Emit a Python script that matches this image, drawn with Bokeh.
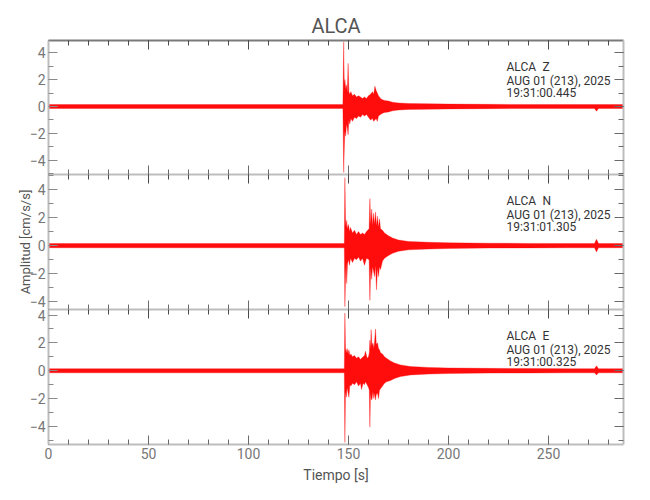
from bokeh.plotting import figure
from bokeh.layouts import column
from bokeh.models import (LinearAxis, SingleIntervalTicker, Range1d, Label,
                          CustomJSTickFormatter)
from bokeh.embed import file_html
from bokeh.resources import INLINE

# ---------------- data ----------------
station = "ALCA"
x_label = "Tiempo [s]"
y_label = "Amplitud [cm/s/s]"
date_text = "AUG 01 (213), 2025"
components = ["Z", "N", "E"]
start_times = ["19:31:00.445", "19:31:01.305", "19:31:00.325"]
t_end = 287.5
y_limits = [(-5.05, 4.9), (-4.55, 5.07), (-5.3, 4.4)]

# envelope of each trace: time [s], upper and lower amplitude [cm/s/s]
t_Z = [0, 147.2, 147.6, 147.9, 148.2, 148.6, 149.0, 149.4, 149.8, 150.2, 150.6,
       151.2, 152, 153, 154, 155, 156, 157, 158, 159, 160, 161, 162, 162.6,
       163.2, 163.8, 164.4, 165, 166, 167, 168, 170, 172, 175, 180, 190, 200,
       220, 240, 260, 273, 274, 275, 280, 287.5]
hi_Z = [0.15, 0.15, 4.8, 1.6, 2.0, 1.3, 1.6, 1.0, 3.2, 1.1, 0.9,
        1.1, 0.8, 0.9, 0.7, 0.8, 0.7, 0.6, 0.7, 0.6, 0.8, 0.9, 1.1, 0.9,
        1.5, 1.2, 1.0, 0.8, 0.6, 0.5, 0.45, 0.4, 0.32, 0.26, 0.22, 0.2, 0.18,
        0.16, 0.15, 0.15, 0.15, 0.15, 0.15, 0.15, 0.15]
lo_Z = [-0.15, -0.15, -4.9, -3.1, -1.8, -2.2, -1.3, -1.6, -2.1, -1.0, -1.3,
        -0.9, -1.1, -0.8, -0.9, -0.7, -0.8, -0.6, -0.7, -0.6, -0.8, -1.0, -0.9, -1.1,
        -1.0, -0.9, -1.1, -0.7, -0.6, -0.5, -0.45, -0.4, -0.32, -0.26, -0.22, -0.2, -0.18,
        -0.16, -0.15, -0.15, -0.15, -0.35, -0.15, -0.15, -0.15]

t_N = [0, 147.9, 148.2, 148.5, 148.8, 149.1, 149.5, 150, 150.5, 151, 152, 153,
       154, 155, 156, 157, 158, 159, 160.3, 160.7, 161.1, 161.6, 162, 162.5,
       163, 163.5, 164, 164.5, 165, 165.5, 166, 167, 168, 170, 172, 175, 180,
       190, 200, 220, 240, 260, 273, 274, 275, 280, 287.5]
hi_N = [0.15, 0.15, 4.85, 1.9, 1.3, 1.8, 1.2, 1.5, 1.0, 1.3, 0.9, 1.1,
        0.8, 1.0, 0.8, 0.9, 0.8, 1.0, 1.2, 3.35, 1.5, 2.6, 1.4, 2.3,
        1.5, 2.4, 1.4, 2.1, 1.3, 1.9, 1.2, 1.1, 0.9, 0.7, 0.55, 0.4, 0.3,
        0.24, 0.2, 0.17, 0.16, 0.15, 0.15, 0.45, 0.15, 0.15, 0.15]
lo_N = [-0.15, -0.15, -4.35, -2.4, -1.2, -2.7, -1.3, -1.0, -1.4, -0.9, -1.2, -0.9,
        -1.0, -0.8, -1.1, -0.9, -1.4, -0.9, -1.0, -3.9, -1.6, -2.4, -1.5, -1.8,
        -2.2, -1.4, -3.15, -1.6, -2.2, -1.5, -1.7, -1.1, -0.9, -0.7, -0.55, -0.4, -0.3,
        -0.24, -0.2, -0.17, -0.16, -0.15, -0.15, -0.45, -0.15, -0.15, -0.15]

t_E = [0, 147.9, 148.2, 148.5, 148.9, 149.3, 149.8, 150.2, 150.7, 151.2, 152,
       153, 154, 155, 156, 156.5, 157.3, 158, 158.5, 159.3, 160.0, 160.4, 160.7,
       161.0, 161.3, 161.7, 162.2, 162.7, 163.1, 163.5, 163.9, 164.5, 165, 165.5,
       166, 167, 168, 169, 171, 173, 176, 181, 190, 200, 220, 240, 260, 273,
       274, 275, 280, 287.5]
hi_E = [0.15, 0.15, 4.15, 1.6, 1.3, 1.6, 1.2, 1.5, 1.1, 1.2, 1.0,
        1.1, 0.9, 1.0, 0.8, 0.9, 1.0, 1.1, 1.4, 0.9, 1.0, 1.3, 2.2,
        1.5, 2.95, 1.8, 2.0, 1.6, 2.2, 3.0, 1.9, 2.0, 1.6, 1.5,
        1.3, 1.2, 1.0, 0.9, 0.7, 0.55, 0.42, 0.3, 0.24, 0.2, 0.17, 0.16, 0.15, 0.15,
        0.35, 0.15, 0.15, 0.15]
lo_E = [-0.15, -0.15, -5.15, -1.5, -1.9, -1.2, -1.6, -1.9, -1.0, -1.1, -0.9,
        -1.0, -0.8, -1.1, -0.9, -1.35, -0.9, -1.0, -0.8, -1.0, -1.2, -1.4, -4.05,
        -1.6, -2.0, -2.1, -1.5, -2.0, -1.6, -2.1, -1.7, -1.6, -2.0, -1.4,
        -1.3, -1.1, -0.9, -0.8, -0.7, -0.55, -0.42, -0.3, -0.24, -0.2, -0.17, -0.16, -0.15, -0.15,
        -0.3, -0.15, -0.15, -0.15]

traces = [(t_Z, hi_Z, lo_Z), (t_N, hi_N, lo_N), (t_E, hi_E, lo_E)]

# ---------------- styling ----------------
FONT = "Roboto"
FRAME_W = 575
frame_hs = [134, 135, 135]
x_range = Range1d(0, t_end)


def style_axis(ax, line_color, tick_color, show_labels):
    ax.axis_line_color = line_color
    ax.axis_line_width = 2
    ax.major_tick_in = 9
    ax.major_tick_out = 0
    ax.minor_tick_in = 5
    ax.minor_tick_out = 0
    ax.major_tick_line_color = tick_color
    ax.minor_tick_line_color = tick_color
    if show_labels:
        ax.major_label_text_font = FONT
        ax.major_label_text_font_size = "14px"
        ax.major_label_text_color = "#777777"
        ax.major_label_standoff = 3
    else:
        ax.formatter = CustomJSTickFormatter(code="return ''")
        ax.major_label_text_font_size = "0px"
        ax.major_label_standoff = 0


def xticker():
    return SingleIntervalTicker(interval=50, num_minor_ticks=5)


def yticker():
    return SingleIntervalTicker(interval=2, num_minor_ticks=2)


panels = []
for i, (comp, st, (t, hi, lo), lim, fh) in enumerate(
        zip(components, start_times, traces, y_limits, frame_hs)):
    first = i == 0
    last = i == len(components) - 1
    p = figure(frame_width=FRAME_W, frame_height=fh, x_range=x_range,
               y_range=Range1d(*lim), output_backend="svg", toolbar_location=None,
               min_border_left=48, min_border_right=10,
               min_border_top=40 if first else 0,
               min_border_bottom=0)
    p.xgrid.visible = False
    p.ygrid.visible = False
    p.outline_line_color = None
    p.background_fill_color = "white"
    p.border_fill_color = "white"

    bottom = p.xaxis[0]
    left = p.yaxis[0]
    bottom.ticker = xticker()
    left.ticker = yticker()
    style_axis(bottom, "#bdbdbd", "#6a6a6a", last)
    style_axis(left, "#bdbdbd", "#8a8a8a", True)
    top = LinearAxis(ticker=xticker())
    right = LinearAxis(ticker=yticker())
    style_axis(top, "#7a7a7a" if first else "#bdbdbd", "#4a4a4a", False)
    style_axis(right, "#bdbdbd", "#6a6a6a", False)
    p.add_layout(top, "above")
    p.add_layout(right, "right")

    p.varea(x=t, y1=lo, y2=hi, fill_color="#ff0000", fill_alpha=0.95)
    p.line(x=t, y=hi, line_color="#ff0000", line_width=0.7, line_alpha=0.45)
    p.line(x=t, y=lo, line_color="#ff0000", line_width=0.7, line_alpha=0.45)

    def ypos(px):
        return lim[1] - px / fh * (lim[1] - lim[0])

    def xpos(px):
        return px / FRAME_W * t_end

    common = dict(text_font=FONT, text_font_size="12px", text_color="#333333",
                  text_baseline="alphabetic", text_align="left")
    p.add_layout(Label(x=xpos(458), y=ypos(26.7), text=station, **common))
    p.add_layout(Label(x=xpos(494), y=ypos(26.7), text=comp, **common))
    p.add_layout(Label(x=xpos(458), y=ypos(40), text=date_text, **common))
    p.add_layout(Label(x=xpos(458), y=ypos(52.7), text=st, **common))

    if first:
        p.title.text = station
        p.title.align = "center"
        p.title.text_font = FONT
        p.title.text_font_size = "20px"
        p.title.text_font_style = "normal"
        p.title.text_color = "#555555"
        p.title.standoff = 5
    if i == 1:
        left.axis_label = y_label
        left.axis_label_text_font = FONT
        left.axis_label_text_font_size = "13px"
        left.axis_label_text_font_style = "normal"
        left.axis_label_text_color = "#555555"
        left.axis_label_standoff = -6
    if last:
        bottom.axis_label = x_label
        bottom.axis_label_text_font = FONT
        bottom.axis_label_text_font_size = "14px"
        bottom.axis_label_text_font_style = "normal"
        bottom.axis_label_text_color = "#555555"
        bottom.axis_label_standoff = 5
    panels.append(p)

layout = column(*panels, spacing=0)
open("out.html", "w").write(file_html(layout, INLINE))
